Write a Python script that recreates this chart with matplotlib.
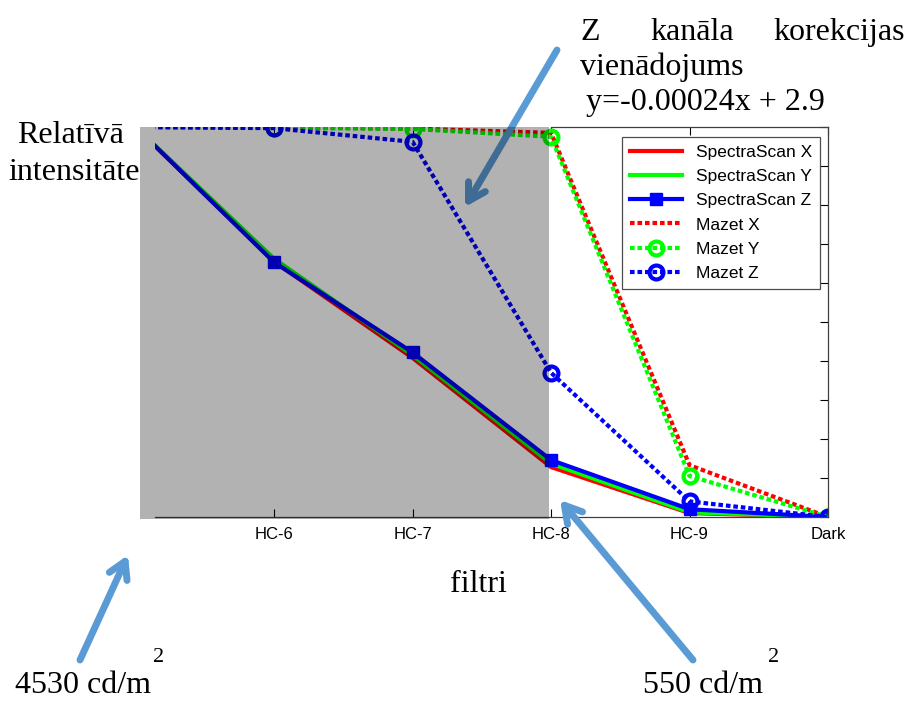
import numpy as np
import matplotlib
matplotlib.use("Agg")
import matplotlib.pyplot as plt
from matplotlib.patches import Rectangle, FancyArrowPatch

# dati (normalizēta intensitāte pa filtriem)
pozicijas = [0, 1, 2, 3, 4, 5]
filtri = ['', 'HC-6', 'HC-7', 'HC-8', 'HC-9', 'Dark']

spectra_x = [1.0, 0.655, 0.408, 0.128, 0.010, 0.0]
spectra_y = [1.0, 0.662, 0.415, 0.137, 0.012, 0.0]
spectra_z = [1.0, 0.653, 0.422, 0.146, 0.020, 0.0]
mazet_x = [1.0, 0.999, 0.996, 0.985, 0.133, 0.0]
mazet_y = [1.0, 0.998, 0.995, 0.975, 0.105, 0.0]
mazet_z = [1.0, 0.997, 0.962, 0.370, 0.040, 0.0]

W, H = 912, 702
fig = plt.figure(figsize=(W / 100, H / 100), dpi=100)


def fx(px):
    return px / W


def fy(py):
    # pikseļi no augšas -> figūras koordinātes
    return 1 - py / H


ax = fig.add_axes([fx(155), fy(517), fx(828) - fx(155), fy(127) - fy(517)])

dots = (0, (1.1, 0.7))
ax.plot(pozicijas, spectra_x, color='#ff0000', lw=3, label='SpectraScan X')
ax.plot(pozicijas, spectra_y, color='#00ff00', lw=3, label='SpectraScan Y')
ax.plot(pozicijas, spectra_z, color='#0000ff', lw=3, marker='s', ms=8,
        label='SpectraScan Z')
ax.plot(pozicijas, mazet_x, color='#ff0000', lw=3, ls=dots, label='Mazet X')
ax.plot(pozicijas, mazet_y, color='#00ff00', lw=3, ls=dots, marker='o', ms=10,
        mfc='none', mew=3, label='Mazet Y')
ax.plot(pozicijas, mazet_z, color='#0000ff', lw=3, ls=dots, marker='o', ms=10,
        mfc='none', mew=3, label='Mazet Z')

ax.set_xlim(0.14, 5)
ax.set_ylim(0, 1)
ax.set_xticks(pozicijas[1:])
ax.set_xticklabels(filtri[1:], family='Liberation Sans', fontsize=12)
ax.set_yticks(np.arange(0, 1.01, 0.1))
ax.set_yticklabels([])
ax.tick_params(direction='in', length=6, top=True, right=True, left=False, pad=7)
for s in ax.spines.values():
    s.set_color('0.25')
    s.set_linewidth(0.9)
# pelēkais laukums aizsedz kreiso un daļu no augšējās ass
ax.spines['left'].set_visible(False)
ax.spines['top'].set_bounds(3, 5)

leg = ax.legend(loc='upper right', bbox_to_anchor=(fx(820), fy(137)),
                bbox_transform=fig.transFigure, borderaxespad=0,
                prop={'family': 'Liberation Sans', 'size': 12.5},
                handlelength=3.0, labelspacing=0.52, fancybox=False,
                framealpha=1, edgecolor='0.3', borderpad=0.45)
leg.get_frame().set_linewidth(0.9)

serif = {'family': 'Liberation Serif', 'size': 23, 'color': 'black'}
fig.text(fx(70), fy(143), 'Relatīvā', ha='center', va='baseline', **serif)
fig.text(fx(8), fy(180), 'intensitāte', ha='left', va='baseline', **serif)
fig.text(fx(478), fy(592), 'filtri', ha='center', va='baseline', **serif)

fig.text(fx(580), fy(40), 'Z', ha='left', va='baseline', **serif)
fig.text(fx(650), fy(40), 'kanāla', ha='left', va='baseline', **serif)
fig.text(fx(905), fy(40), 'korekcijas', ha='right', va='baseline', **serif)
fig.text(fx(580), fy(75), 'vienādojums', ha='left', va='baseline', **serif)
fig.text(fx(586), fy(110), 'y=-0.00024x + 2.9', ha='left', va='baseline', **serif)

fig.text(fx(15), fy(693), '4530 cd/m', ha='left', va='baseline', **serif)
fig.text(fx(153), fy(662), '2', ha='left', va='baseline',
         family='Liberation Serif', fontsize=16)
fig.text(fx(643), fy(693), '550 cd/m', ha='left', va='baseline', **serif)
fig.text(fx(768), fy(662), '2', ha='left', va='baseline',
         family='Liberation Serif', fontsize=16)

# bultas
bultas = [((557, 50), (465, 207)),
          ((80, 660), (128, 555)),
          ((693, 660), (560, 500))]
for (x0, y0), (x1, y1) in bultas:
    a = FancyArrowPatch((fx(x0), fy(y0)), (fx(x1), fy(y1)),
                        transform=fig.transFigure, arrowstyle='->,head_length=12,head_width=7',
                        color='#5b9bd5', lw=5, zorder=5, shrinkA=0, shrinkB=0,
                        capstyle='round', joinstyle='round')
    fig.patches.append(a)

# pelēkais pārklājums
fig.patches.append(Rectangle((fx(140), fy(519)), fx(549) - fx(140), fy(127) - fy(519),
                             transform=fig.transFigure, facecolor='black',
                             alpha=0.3, edgecolor='none', zorder=10))

fig.savefig('out.png', dpi=100)
